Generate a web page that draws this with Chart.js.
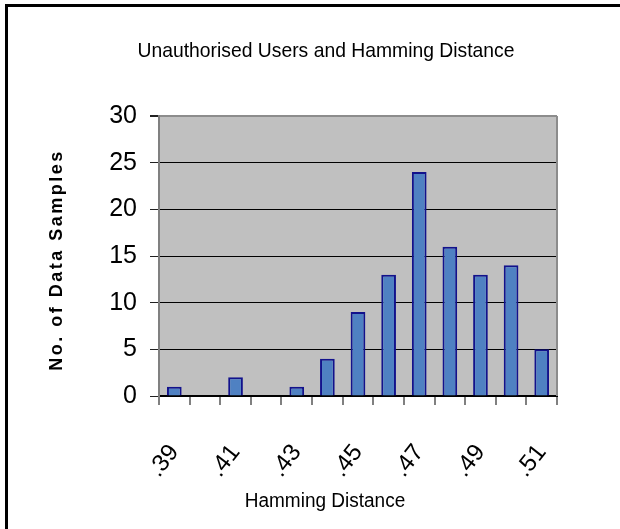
<!DOCTYPE html>
<html>
<head>
<meta charset="utf-8">
<script src="https://cdn.jsdelivr.net/npm/chart.js@4.4.0/dist/chart.umd.min.js"></script>
<style>
  html, body { margin: 0; padding: 0; background: #fff; }
  #wrap { position: relative; width: 620px; height: 529px; overflow: hidden; }
  #frame {
    position: absolute; left: 5px; top: 4px; width: 700px; height: 600px;
    border-top: 3px solid #000; border-left: 3px solid #000; pointer-events: none;
  }
  canvas { position: absolute; left: 0; top: 0; }
</style>
</head>
<body>
<div id="wrap">
  <canvas id="chart" width="620" height="529"></canvas>
  <div id="frame"></div>
</div>
<script>
  // ---- DATA ----
  const categories = ['.39', '.40', '.41', '.42', '.43', '.44', '.45', '.46', '.47', '.48', '.49', '.50', '.51'];
  const samples = [1, 0, 2, 0, 1, 4, 9, 13, 24, 16, 13, 14, 5];
  const tickLabels = ['.39', '', '.41', '', '.43', '', '.45', '', '.47', '', '.49', '', '.51'];
  const yTicks = [0, 5, 10, 15, 20, 25, 30];

  const chartTitle = 'Unauthorised Users and Hamming Distance';
  const xTitle = 'Hamming Distance';
  const yTitle = 'No. of Data Samples';

  const FONT = '"Liberation Sans", Arial, sans-serif';

  // ---- PLOT BACKGROUND + TITLES ----
  // text in the original is a bit squashed sideways, so scale x a little
  function squashedText(ctx, text, x, y, sx) {
    ctx.save();
    ctx.translate(x, y);
    ctx.scale(sx, 1);
    ctx.fillText(text, 0, 0);
    ctx.restore();
  }

  const excelLook = {
    id: 'excelLook',
    beforeDraw(chart) {
      const { ctx, chartArea: a } = chart;
      ctx.save();
      ctx.fillStyle = '#c0c0c0';
      ctx.fillRect(a.left, a.top, a.right - a.left, a.bottom - a.top);
      ctx.restore();
    },
    afterDraw(chart) {
      const { ctx, chartArea: a } = chart;
      ctx.save();
      // right edge of plot area
      ctx.strokeStyle = '#8c8c8c';
      ctx.lineWidth = 2;
      ctx.beginPath();
      ctx.moveTo(a.right, a.top);
      ctx.lineTo(a.right, a.bottom);
      ctx.stroke();

      ctx.fillStyle = '#000';
      ctx.textAlign = 'center';
      ctx.textBaseline = 'alphabetic';
      ctx.font = '21px ' + FONT;
      squashedText(ctx, chartTitle, 326, 57, 0.92);

      ctx.font = '20px ' + FONT;
      squashedText(ctx, xTitle, 325, 507, 0.95);

      ctx.translate(62, 260);
      ctx.rotate(-Math.PI / 2);
      ctx.font = 'bold 18px ' + FONT;
      ctx.letterSpacing = '2.5px';
      ctx.fillText(yTitle, 0, 0);
      ctx.restore();
    }
  };

  new Chart(document.getElementById('chart'), {
    type: 'bar',
    data: {
      labels: categories,
      datasets: [{
        data: samples,
        backgroundColor: '#4f81c2',
        borderColor: '#12128c',
        borderWidth: 2,
        barPercentage: 0.48,
        categoryPercentage: 1.0,
      }]
    },
    options: {
      responsive: false,
      animation: false,
      devicePixelRatio: 1,
      layout: { padding: { top: 116, right: 63, left: 0, bottom: 0 } },
      plugins: {
        legend: { display: false },
        title: { display: false },
        tooltip: { enabled: false }
      },
      scales: {
        x: {
          afterFit: s => { s.height = 133; },
          grid: { drawOnChartArea: false, drawTicks: true, tickLength: 9, color: '#808080', lineWidth: 2, offset: true },
          border: { display: true, color: '#000', width: 2 },
          ticks: {
            autoSkip: false,
            maxRotation: 52,
            minRotation: 52,
            padding: 34,
            color: '#000',
            font: { family: FONT, size: 24 },
            callback: (v, i) => tickLabels[i]
          }
        },
        y: {
          min: 0,
          max: 30,
          afterFit: s => { s.width = 159; },
          afterBuildTicks: s => { s.ticks = yTicks.map(v => ({ value: v })); },
          grid: {
            color: c => (c.tick && c.tick.value === 30) ? '#8c8c8c' : '#000',
            lineWidth: c => (c.tick && c.tick.value === 30) ? 2 : 1,
            tickColor: '#222',
            tickLength: 9,
            drawTicks: true
          },
          border: { display: true, color: '#808080', width: 2 },
          ticks: {
            padding: 13,
            color: '#000',
            font: { family: FONT, size: 25 },
            stepSize: 5
          }
        }
      }
    },
    plugins: [excelLook]
  });
</script>
</body>
</html>
